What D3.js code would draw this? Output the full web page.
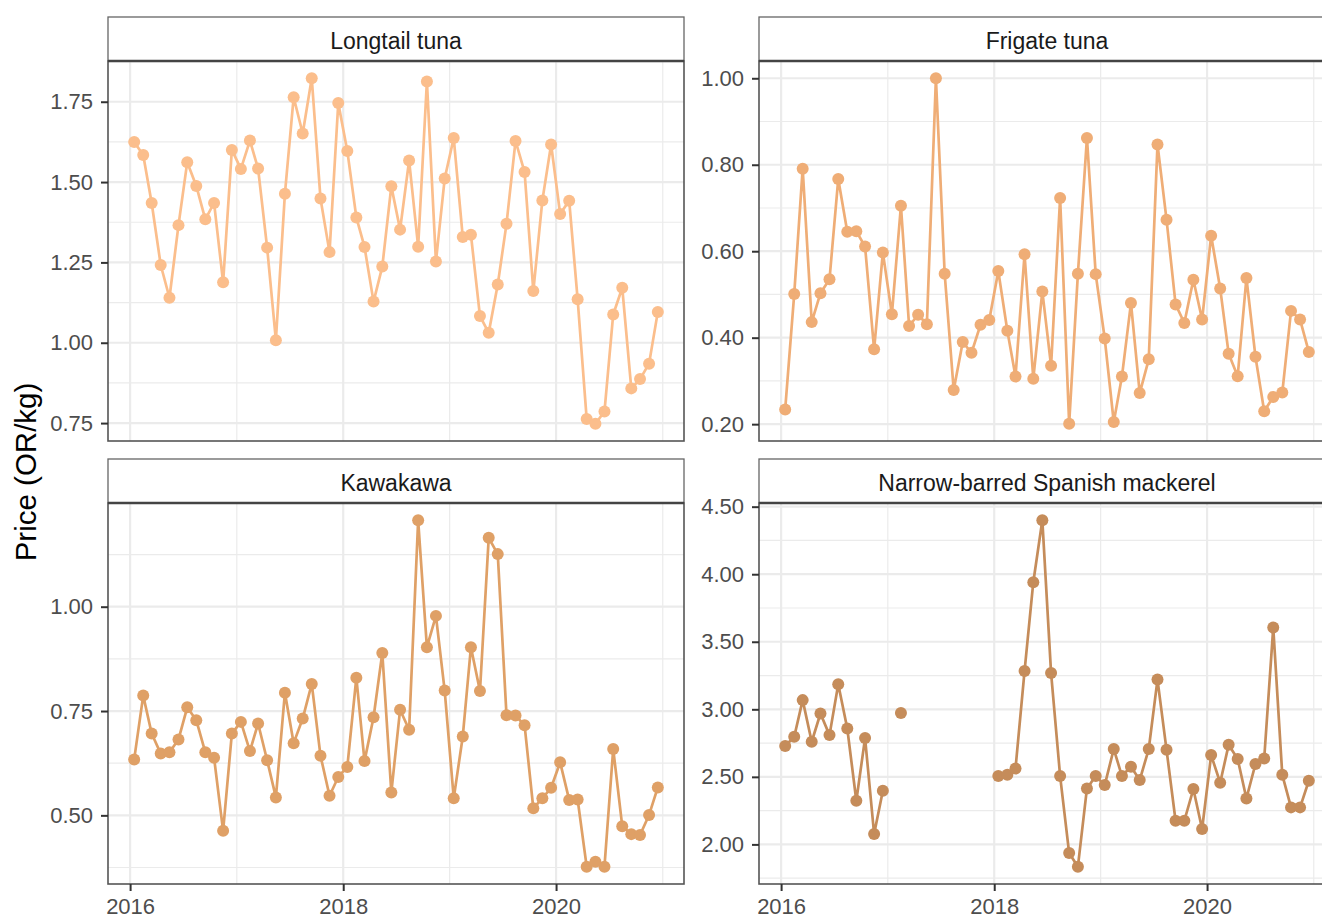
<!DOCTYPE html>
<html>
<head>
<meta charset="utf-8">
<script src="https://cdn.jsdelivr.net/npm/d3@7"></script>
<style>
  html, body { margin: 0; padding: 0; background: #fff; overflow: hidden; }
  svg { display: block; font-family: "Liberation Sans", Arial, sans-serif; }
</style>
</head>
<body>
<svg id="chart" width="1322" height="918"></svg>
<script>
// ---------- DATA ----------
const speciesNames = ["Longtail tuna", "Frigate tuna", "Kawakawa", "Narrow-barred Spanish mackerel"];
const speciesColors = ["#FBBE8C", "#EFAD76", "#DFA066", "#C58C5A"];

const longtail = [
  1.625,1.584,1.435,1.242,1.140,1.366,1.562,1.488,1.384,1.435,1.188,1.600,
  1.541,1.629,1.542,1.296,1.008,1.464,1.764,1.651,1.823,1.449,1.282,1.746,
  1.597,1.390,1.298,1.128,1.237,1.487,1.352,1.567,1.299,1.813,1.253,1.511,
  1.637,1.329,1.336,1.083,1.031,1.181,1.370,1.628,1.531,1.161,1.443,1.617,
  1.401,1.442,1.135,0.763,0.748,0.786,1.088,1.171,0.858,0.887,0.935,1.096];
const frigate = [
  0.234,0.501,0.791,0.436,0.503,0.535,0.767,0.645,0.646,0.611,0.373,0.597,
  0.454,0.705,0.427,0.453,0.431,1.000,0.548,0.279,0.390,0.365,0.430,0.441,
  0.554,0.416,0.310,0.593,0.305,0.507,0.335,0.723,0.201,0.548,0.862,0.547,
  0.398,0.205,0.310,0.480,0.272,0.350,0.847,0.673,0.477,0.434,0.534,0.442,
  0.636,0.514,0.363,0.311,0.538,0.356,0.230,0.263,0.273,0.462,0.442,0.367];
const kawakawa = [
  0.634,0.787,0.696,0.648,0.651,0.682,0.759,0.728,0.651,0.638,0.463,0.696,
  0.724,0.654,0.720,0.632,0.543,0.794,0.673,0.732,0.815,0.643,0.547,0.592,
  0.616,0.830,0.630,0.735,0.889,0.555,0.753,0.705,1.207,0.903,0.978,0.799,
  0.541,0.689,0.903,0.798,1.165,1.126,0.740,0.739,0.716,0.517,0.541,0.566,
  0.627,0.537,0.538,0.377,0.389,0.377,0.659,0.474,0.455,0.453,0.501,0.567];
const mackerel = [
  2.728,2.797,3.068,2.760,2.969,2.809,3.186,2.858,2.323,2.787,2.077,2.397,
  null,2.972,null,null,null,null,null,null,null,null,null,null,
  2.506,2.515,2.562,3.283,3.941,4.399,3.268,2.506,1.936,1.835,2.414,2.506,
  2.439,2.706,2.506,2.575,2.476,2.706,3.220,2.700,2.175,2.175,2.410,2.114,
  2.661,2.456,2.737,2.632,2.340,2.595,2.636,3.605,2.515,2.274,2.274,2.471];

const longtailTicks = [0.75, 1.00, 1.25, 1.50, 1.75];
const frigateTicks  = [0.20, 0.40, 0.60, 0.80, 1.00];
const kawakawaTicks = [0.50, 0.75, 1.00];
const mackerelTicks = [2.00, 2.50, 3.00, 3.50, 4.00, 4.50];
const xTickYears = [2016, 2018, 2020];
const yTitle = "Price (OR/kg)";

// monthly observation dates (mid-month), Jan 2016 - Dec 2020
const dates = d3.range(60).map(i => new Date(2016 + Math.floor(i / 12), i % 12, 15));

const seriesList = [longtail, frigate, kawakawa, mackerel];
const tickList = [longtailTicks, frigateTicks, kawakawaTicks, mackerelTicks];

// ---------- LAYOUT ----------
const svg = d3.select("#chart");
const panelW = 576;
const colX = [108, 759];
const rowStripTop = [17, 459];
const stripH = 44;
const rowPlotBottom = [441, 884];

const gridCol = "#EBEBEB";
const tickTextCol = "#4D4D4D";
const fontSize = 22;
const stripFontSize = 23;

const defs = svg.append("defs");

seriesList.forEach((vals, k) => {
  const col = k % 2, row = Math.floor(k / 2);
  const x0 = colX[col], x1 = x0 + panelW;
  const sTop = rowStripTop[row];
  const pTop = sTop + stripH, pBot = rowPlotBottom[row];

  // x scale with 5% expansion
  const dExt = d3.extent(dates);
  const span = dExt[1] - dExt[0];
  const x = d3.scaleTime()
    .domain([new Date(+dExt[0] - 0.05 * span), new Date(+dExt[1] + 0.05 * span)])
    .range([x0, x1]);

  // y scale with 5% expansion
  const yExt = d3.extent(vals.filter(v => v != null));
  const yr = yExt[1] - yExt[0];
  const y = d3.scaleLinear()
    .domain([yExt[0] - 0.05 * yr, yExt[1] + 0.05 * yr])
    .range([pBot, pTop]);

  const g = svg.append("g");

  g.append("rect").attr("x", x0).attr("y", pTop).attr("width", panelW).attr("height", pBot - pTop)
    .attr("fill", "#fff");

  // minor grid
  const ticks = tickList[k];
  const step = ticks[1] - ticks[0];
  const yMinor = d3.range(-2, ticks.length + 2).map(i => ticks[0] + (i + 0.5) * step)
    .filter(v => v > y.domain()[0] && v < y.domain()[1]);
  const xMinorYears = [2015, 2017, 2019, 2021];
  const xMinor = xMinorYears.map(yy => new Date(yy, 0, 1)).filter(d => d > x.domain()[0] && d < x.domain()[1]);

  g.selectAll(".ymin").data(yMinor).enter().append("line")
    .attr("x1", x0).attr("x2", x1).attr("y1", d => y(d)).attr("y2", d => y(d))
    .attr("stroke", gridCol).attr("stroke-width", 1.2);
  g.selectAll(".xmin").data(xMinor).enter().append("line")
    .attr("y1", pTop).attr("y2", pBot).attr("x1", d => x(d)).attr("x2", d => x(d))
    .attr("stroke", gridCol).attr("stroke-width", 1.2);

  // major grid
  const xMajor = xTickYears.map(yy => new Date(yy, 0, 1));
  g.selectAll(".ymaj").data(ticks).enter().append("line")
    .attr("x1", x0).attr("x2", x1).attr("y1", d => y(d)).attr("y2", d => y(d))
    .attr("stroke", gridCol).attr("stroke-width", 2.2);
  g.selectAll(".xmaj").data(xMajor).enter().append("line")
    .attr("y1", pTop).attr("y2", pBot).attr("x1", d => x(d)).attr("x2", d => x(d))
    .attr("stroke", gridCol).attr("stroke-width", 2.2);

  // data
  const pts = dates.map((d, i) => ({ d, v: vals[i] }));
  const line = d3.line()
    .defined(p => p.v != null)
    .x(p => x(p.d)).y(p => y(p.v));
  const clipId = "clip" + k;
  defs.append("clipPath").attr("id", clipId).append("rect")
    .attr("x", x0).attr("y", pTop).attr("width", panelW).attr("height", pBot - pTop);
  const dg = g.append("g").attr("clip-path", `url(#${clipId})`);
  dg.append("path").datum(pts).attr("d", line)
    .attr("fill", "none").attr("stroke", speciesColors[k]).attr("stroke-width", 2.7)
    .attr("stroke-linejoin", "round");
  dg.selectAll("circle").data(pts.filter(p => p.v != null)).enter().append("circle")
    .attr("cx", p => x(p.d)).attr("cy", p => y(p.v)).attr("r", 6)
    .attr("fill", speciesColors[k]);

  // panel border
  g.append("rect").attr("x", x0).attr("y", pTop).attr("width", panelW).attr("height", pBot - pTop)
    .attr("fill", "none").attr("stroke", "#555").attr("stroke-width", 1.6);

  // strip
  g.append("rect").attr("x", x0).attr("y", sTop).attr("width", panelW).attr("height", stripH)
    .attr("fill", "#fff").attr("stroke", "#666").attr("stroke-width", 1.3);
  g.append("line").attr("x1", x0).attr("x2", x1).attr("y1", pTop).attr("y2", pTop)
    .attr("stroke", "#444").attr("stroke-width", 2.4);
  g.append("text").attr("x", (x0 + x1) / 2).attr("y", sTop + 31.5)
    .attr("text-anchor", "middle").attr("font-size", stripFontSize).attr("fill", "#1A1A1A")
    .text(speciesNames[k]);

  // y axis
  const yAxis = d3.axisLeft(y).tickValues(ticks).tickFormat(d3.format(".2f"))
    .tickSize(7).tickPadding(8);
  const ya = svg.append("g").attr("transform", `translate(${x0},0)`).call(yAxis);
  ya.select(".domain").remove();
  ya.selectAll(".tick line").attr("stroke", "#333").attr("stroke-width", 2);
  ya.selectAll(".tick text").attr("font-size", fontSize).attr("fill", tickTextCol)
    .attr("font-family", "'Liberation Sans', Arial, sans-serif");

  // x axis (bottom row only)
  if (row === 1) {
    const xAxis = d3.axisBottom(x).tickValues(xMajor).tickFormat(d3.timeFormat("%Y"))
      .tickSize(7).tickPadding(7);
    const xa = svg.append("g").attr("transform", `translate(0,${pBot})`).call(xAxis);
    xa.select(".domain").remove();
    xa.selectAll(".tick line").attr("stroke", "#333").attr("stroke-width", 2);
    xa.selectAll(".tick text").attr("font-size", fontSize).attr("fill", tickTextCol)
      .attr("font-family", "'Liberation Sans', Arial, sans-serif");
  }
});

// y title
svg.append("text")
  .attr("transform", "translate(36,472) rotate(-90)")
  .attr("text-anchor", "middle").attr("font-size", 29.5).attr("fill", "#000")
  .text(yTitle);
</script>
</body>
</html>
